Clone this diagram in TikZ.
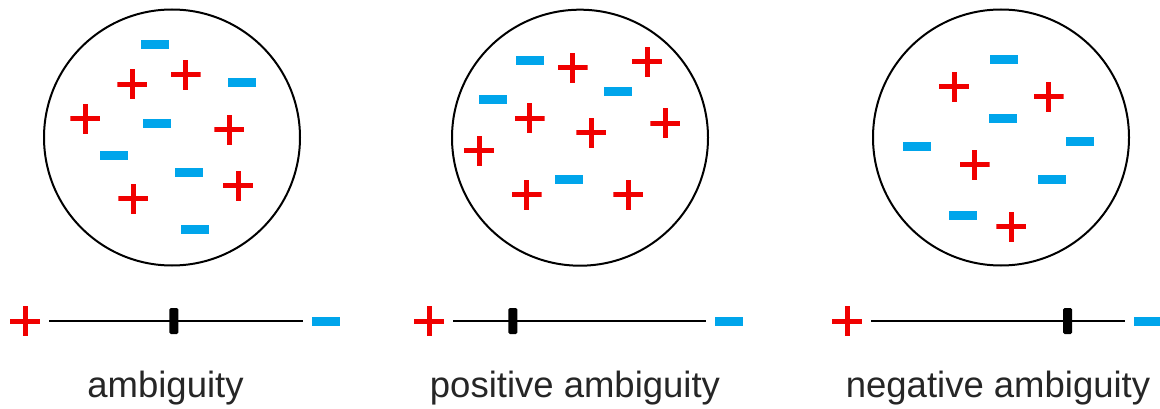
\documentclass[tikz,border=0pt]{standalone}
\usepackage{fontspec}
\setmainfont{Liberation Sans}
\definecolor{plusred}{RGB}{240,0,0}
\definecolor{minusblue}{RGB}{0,165,235}
\begin{document}
\begin{tikzpicture}[x=1pt,y=-1pt,
  plussign/.style={minimum size=30pt, inner sep=0pt, outer sep=0pt,
    path picture={
      \fill[plusred] ([xshift=-2.5pt]path picture bounding box.north) rectangle ([xshift=2.5pt]path picture bounding box.south);
      \fill[plusred] ([yshift=-2.5pt]path picture bounding box.west) rectangle ([yshift=2.5pt]path picture bounding box.east);}},
  minussign/.style={rectangle, fill=minusblue, minimum width=28pt, minimum height=9pt, inner sep=0pt, outer sep=0pt},
  pool/.style={circle, draw=black, line width=2pt, minimum size=256pt, inner sep=0pt},
  scaleline/.style={line width=2pt, shorten <=9pt, shorten >=9pt},
  marker/.style={rectangle, fill=black, rounded corners=1.5pt, minimum width=9pt, minimum height=26pt, inner sep=0pt},
  caption/.style={anchor=base, inner sep=0pt, font=\fontsize{36.5}{40}\selectfont, text=black!85}
]
\useasboundingbox (0,0) rectangle (1160,409);

% circles
\node[pool] (c1) at (172,137.5) {};
\node[pool] (c2) at (580,137.7) {};
\node[pool] (c3) at (1001,137.5) {};

% circle 1 symbols
\foreach \x/\y [count=\i] in {155.3/44.3, 242/82.7, 157.3/124, 113.7/155.7, 188.7/173, 194.7/229.7}
  \node[minussign] (a-m\i) at (\x,\y) {};
\foreach \x/\y [count=\i] in {185.7/74.7, 132.3/84.3, 85.3/119, 229.3/130, 238/185.7, 133.3/199}
  \node[plussign] (a-p\i) at (\x,\y) {};

% circle 2 symbols
\foreach \x/\y [count=\i] in {530.3/60.7, 493.3/99.3, 618.3/92, 569/179.3}
  \node[minussign] (b-m\i) at (\x,\y) {};
\foreach \x/\y [count=\i] in {572.7/67.7, 647/62, 529.7/118.3, 591.3/133, 665.3/123.3, 479/151, 526.7/195, 628.3/195}
  \node[plussign] (b-p\i) at (\x,\y) {};

% circle 3 symbols
\foreach \x/\y [count=\i] in {1003.7/60, 1002.7/118.3, 916.7/147, 1080/141.3, 1051.7/180, 962.7/215}
  \node[minussign] (n-m\i) at (\x,\y) {};
\foreach \x/\y [count=\i] in {954/86.7, 1048.7/96.7, 974.7/165, 1011.3/226.7}
  \node[plussign] (n-p\i) at (\x,\y) {};

% scales
\node[plussign] (s1p) at (25.2,321) {};
\node[minussign] (s1m) at (325.5,321) {};
\draw[scaleline] (s1p.east) -- (s1m.west);
\node[marker] (t1) at (173.9,321) {};

\node[plussign] (s2p) at (429,321) {};
\node[minussign] (s2m) at (728.6,321) {};
\draw[scaleline] (s2p.east) -- (s2m.west);
\node[marker] (t2) at (512.8,321) {};

\node[plussign] (s3p) at (847,321) {};
\node[minussign] (s3m) at (1147.5,321) {};
\draw[scaleline] (s3p.east) -- (s3m.west);
\node[marker] (t3) at (1067.7,321) {};

% captions
\node[caption] (l1) at (165.5,397) {ambiguity};
\node[caption] (l2) at (575,397) {positive ambiguity};
\node[caption] (l3) at (998,397) {negative ambiguity};
\end{tikzpicture}
\end{document}
